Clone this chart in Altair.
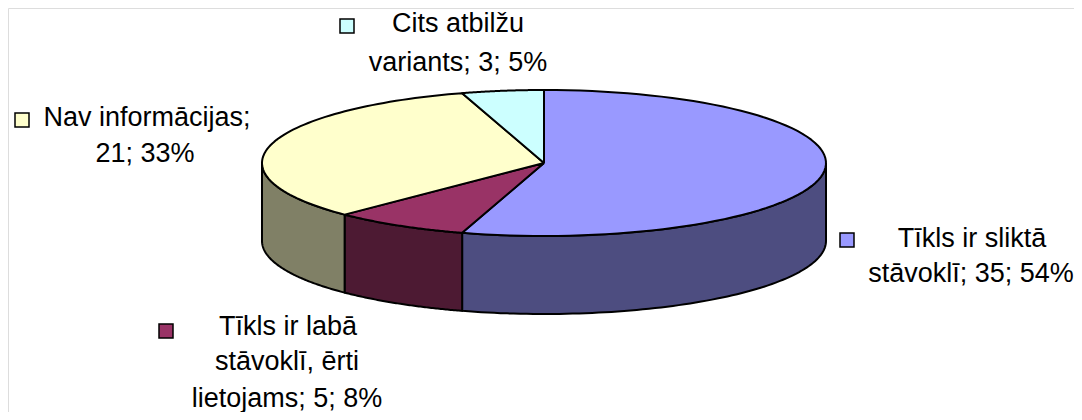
import altair as alt
import pandas as pd

# ---- data ----
categories = ["Tīkls ir sliktā stāvoklī", "Tīkls ir labā stāvoklī, ērti lietojams",
              "Nav informācijas", "Cits atbilžu variants"]
values = [35, 5, 21, 3]
top_colors = ["#9999FF", "#993366", "#FFFFCC", "#CCFFFF"]
side_colors = ["#4D4D80", "#4D1A33", "#808066", "#668080"]

# label text lines (per category)
label_lines = [
    ["Tīkls ir sliktā", "stāvoklī; 35; 54%"],
    ["Tīkls ir labā", "stāvoklī, ērti", "lietojams; 5; 8%"],
    ["Nav informācijas;", "21; 33%"],
    ["Cits atbilžu", "variants; 3; 5%"],
]

df = pd.DataFrame({"category": categories, "value": values, "order": list(range(len(values)))})

# ---- layout (pixel geometry of the 3D pie) ----
CX, CY, RX, RY, DEPTH = 544, 163, 282, 73, 78
N = 80

xs = alt.Scale(domain=[8, 1074], nice=False, zero=False)
ys = alt.Scale(domain=[8, 412], nice=False, zero=False, reverse=True)

base = (
    alt.Chart(df)
    .transform_window(cum="sum(value)", sort=[alt.SortField("order")])
    .transform_joinaggregate(total="sum(value)")
    .transform_calculate(
        a0="2*PI*(datum.cum - datum.value)/datum.total",
        a1="2*PI*datum.cum/datum.total",
    )
)

wall = (
    base.transform_calculate(w0="max(datum.a0, PI/2)", w1="min(datum.a1, 3*PI/2)")
    .transform_filter("datum.w1 > datum.w0")
    .transform_calculate(k=f"sequence(0, {2 * N + 3})")
    .transform_flatten(["k"])
    .transform_calculate(
        t=f"datum.k <= {N} ? datum.k / {N} : (datum.k <= {2 * N + 1} ? ({2 * N + 1} - datum.k) / {N} : 0)",
    )
    .transform_calculate(
        ang="datum.w0 + (datum.w1 - datum.w0) * datum.t",
    )
    .transform_calculate(
        px=f"{CX} + {RX} * sin(datum.ang)",
        py=f"{CY} - {RY} * cos(datum.ang) + ((datum.k > {N} && datum.k <= {2 * N + 1}) ? {DEPTH} : 0)",
    )
    .mark_line(stroke="black", strokeWidth=2, strokeJoin="round")
    .encode(
        x=alt.X("px:Q", scale=xs, axis=None),
        y=alt.Y("py:Q", scale=ys, axis=None),
        order=alt.Order("k:Q"),
        detail="category:N",
        fill=alt.Fill("category:N", scale=alt.Scale(domain=categories, range=side_colors), legend=None),
    )
)

top = (
    base.transform_calculate(k=f"sequence(0, {N + 3})")
    .transform_flatten(["k"])
    .transform_calculate(
        ang=f"datum.a0 + (datum.a1 - datum.a0) * clamp(datum.k - 1, 0, {N}) / {N}",
    )
    .transform_calculate(
        px=f"(datum.k == 0 || datum.k == {N + 2}) ? {CX} : {CX} + {RX} * sin(datum.ang)",
        py=f"(datum.k == 0 || datum.k == {N + 2}) ? {CY} : {CY} - {RY} * cos(datum.ang)",
    )
    .mark_line(stroke="black", strokeWidth=2, strokeJoin="round")
    .encode(
        x=alt.X("px:Q", scale=xs, axis=None),
        y=alt.Y("py:Q", scale=ys, axis=None),
        order=alt.Order("k:Q"),
        detail="category:N",
        fill=alt.Fill("category:N", scale=alt.Scale(domain=categories, range=top_colors), legend=None),
    )
)

# ---- label layout ----
key_pos = [(847, 240), (166, 331), (22, 120), (347, 26)]
line_pos = [
    [(972, 239), (971, 274)],
    [(288, 327), (287, 362), (287, 399)],
    [(147, 118), (145, 154)],
    [(458, 24), (458, 63)],
]

keys_df = pd.DataFrame({
    "category": categories,
    "kx": [p[0] for p in key_pos],
    "ky": [p[1] for p in key_pos],
})
rows = []
for lines, poss in zip(label_lines, line_pos):
    for txt, (lx, ly) in zip(lines, poss):
        rows.append({"text": txt, "lx": lx, "ly": ly})
text_df = pd.DataFrame(rows)

keys = alt.Chart(keys_df).mark_square(size=196, stroke="black", strokeWidth=1.5, opacity=1).encode(
    x=alt.X("kx:Q", scale=xs, axis=None),
    y=alt.Y("ky:Q", scale=ys, axis=None),
    fill=alt.Fill("category:N", scale=alt.Scale(domain=categories, range=top_colors), legend=None),
)

texts = alt.Chart(text_df).mark_text(
    font="Liberation Sans", fontSize=27, align="center", baseline="middle", color="black"
).encode(
    x=alt.X("lx:Q", scale=xs, axis=None),
    y=alt.Y("ly:Q", scale=ys, axis=None),
    text="text:N",
)

chart = (
    alt.layer(wall, top, keys, texts)
    .resolve_scale(fill="independent")
    .properties(width=1066, height=404, padding=0, autosize=alt.AutoSizeParams(type="none"))
    .configure_view(strokeWidth=0, stroke="white", fill="white")
    .configure_axis(domain=False, grid=False, ticks=False, labels=False)
    .configure(background="white")
)

chart.save("out.html", embed_options={"renderer": "svg", "actions": False})
